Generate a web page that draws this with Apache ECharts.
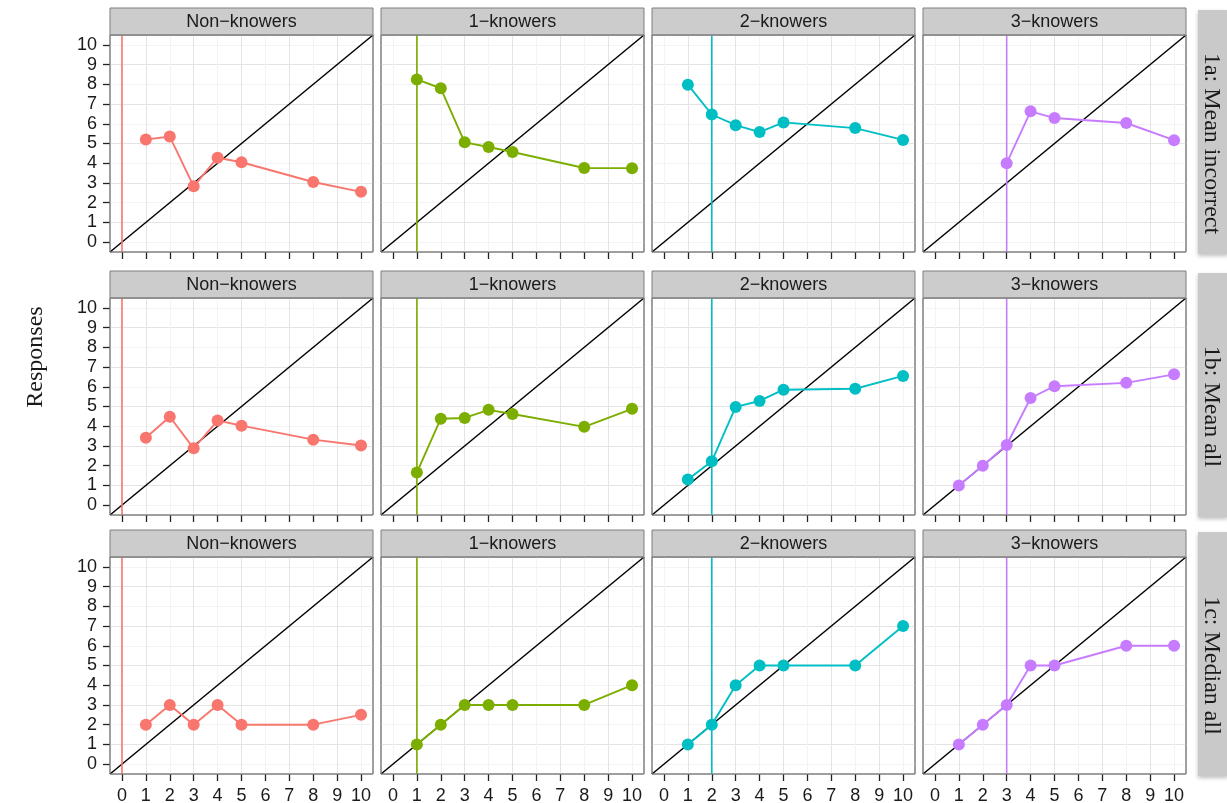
<!DOCTYPE html>
<html>
<head>
<meta charset="utf-8">
<script src="https://cdn.jsdelivr.net/npm/echarts@6/dist/echarts.min.js"></script>
<style>
html,body{margin:0;padding:0;background:#fff;}
#chart{width:1227px;height:803px;}
</style>
</head>
<body>
<div id="chart"></div>
<script>
// ---------- data ----------
const panelNames = ['Non\u2212knowers', '1\u2212knowers', '2\u2212knowers', '3\u2212knowers'];
const rowNames = ['1a: Mean incorrect', '1b: Mean all', '1c: Median all'];
const knowerLevels = [0, 1, 2, 3];
const xValues = [1, 2, 3, 4, 5, 8, 10];
const tickValues = [0, 1, 2, 3, 4, 5, 6, 7, 8, 9, 10];
const diagLine = [[-0.5, -0.5], [10.5, 10.5]];

// Row 1a: Mean incorrect
const meanIncorrectNon = [5.2, 5.35, 2.83, 4.28, 4.05, 3.05, 2.55];
const meanIncorrect1 = [8.25, 7.8, 5.06, 4.82, 4.57, 3.76, 3.75];
const meanIncorrect2 = [7.98, 6.47, 5.93, 5.58, 6.07, 5.78, 5.18];
const meanIncorrect3 = [null, null, 4.0, 6.63, 6.29, 6.04, 5.17];
// Row 1b: Mean all
const meanAllNon = [3.42, 4.48, 2.88, 4.29, 4.03, 3.32, 3.02];
const meanAll1 = [1.65, 4.38, 4.42, 4.83, 4.62, 3.97, 4.88];
const meanAll2 = [1.3, 2.22, 4.98, 5.28, 5.85, 5.9, 6.55];
const meanAll3 = [1.0, 2.0, 3.05, 5.43, 6.03, 6.2, 6.63];
// Row 1c: Median all
const medianAllNon = [2, 3, 2, 3, 2, 2, 2.5];
const medianAll1 = [1, 2, 3, 3, 3, 3, 4];
const medianAll2 = [1, 2, 4, 5, 5, 5, 7];
const medianAll3 = [1, 2, 3, 5, 5, 6, 6];

const rowsData = [
  [meanIncorrectNon, meanIncorrect1, meanIncorrect2, meanIncorrect3],
  [meanAllNon, meanAll1, meanAll2, meanAll3],
  [medianAllNon, medianAll1, medianAll2, medianAll3]
];

// ---------- style / layout ----------
const colors = ['#F8766D', '#7CAE00', '#00BFC4', '#C77CFF'];
const colLefts = [110, 381, 652, 923];
const panelW = 263;
const stripTops = [8, 271, 530];
const stripH = 27;
const panelH = 217;
const sans = '"Liberation Sans", Arial, Helvetica, sans-serif';
const serif = '"Liberation Serif", "Times New Roman", serif';

const grids = [], xAxes = [], yAxes = [], series = [], graphics = [];
let gi = 0;
for (let r = 0; r < 3; r++) {
  const top = stripTops[r] + stripH;
  for (let c = 0; c < 4; c++) {
    const left = colLefts[c];
    grids.push({left: left, top: top, width: panelW, height: panelH, outerBoundsMode: 'none',
      show: true, backgroundColor: '#fff', borderColor: '#7f7f7f', borderWidth: 1, containLabel: false});
    xAxes.push({
      type: 'value', gridIndex: gi, min: -0.5, max: 10.5, interval: 0.5, position: 'bottom',
      axisLine: {show: false, onZero: false},
      axisTick: {show: true, length: 7, customValues: tickValues, lineStyle: {color: '#222', width: 1.3}},
      axisLabel: {show: r === 2, customValues: tickValues, margin: 13, fontSize: 18, fontFamily: sans, color: '#1a1a1a',
        formatter: v => Number.isInteger(v) ? String(v) : ''},
      splitLine: {show: true, lineStyle: {color: ['#f3f3f3', '#e4e4e4'], width: 1}}
    });
    yAxes.push({
      type: 'value', gridIndex: gi, min: -0.5, max: 10.5, interval: 0.5, position: 'left',
      axisLine: {show: false, onZero: false},
      axisTick: {show: c === 0, length: 7, customValues: tickValues, lineStyle: {color: '#222', width: 1.3}},
      axisLabel: {show: c === 0, customValues: tickValues, margin: 13, fontSize: 18, fontFamily: sans, color: '#1a1a1a',
        formatter: v => Number.isInteger(v) ? String(v) : ''},
      splitLine: {show: true, lineStyle: {color: ['#f3f3f3', '#e4e4e4'], width: 1}}
    });
    // diagonal y = x
    series.push({type: 'line', xAxisIndex: gi, yAxisIndex: gi, data: diagLine, symbol: 'none', silent: true,
      lineStyle: {color: '#000', width: 1.5}, z: 2});
    // knower-level vertical line
    const k = knowerLevels[c];
    series.push({type: 'line', xAxisIndex: gi, yAxisIndex: gi, data: [[k, -0.5], [k, 10.5]], symbol: 'none', silent: true,
      lineStyle: {color: colors[c], width: 1.6}, z: 3});
    // responses
    const vals = rowsData[r][c];
    const pts = [];
    xValues.forEach((x, i) => { if (vals[i] !== null) pts.push([x, vals[i]]); });
    series.push({type: 'line', xAxisIndex: gi, yAxisIndex: gi, data: pts, symbol: 'circle', symbolSize: 12,
      itemStyle: {color: colors[c]}, lineStyle: {color: colors[c], width: 1.9}, z: 4, clip: false});
    // strip
    graphics.push({type: 'rect', shape: {x: left, y: stripTops[r], width: panelW, height: stripH},
      style: {fill: '#cccccc', stroke: '#7f7f7f', lineWidth: 1}, z: 10});
    graphics.push({type: 'text', x: left + panelW / 2, y: stripTops[r] + stripH / 2 + 1,
      style: {text: panelNames[c], fill: '#1a1a1a', font: '18px ' + sans, align: 'center', verticalAlign: 'middle'}, z: 11});
    // panel border on top
    graphics.push({type: 'rect', shape: {x: left, y: top, width: panelW, height: panelH},
      style: {fill: 'none', stroke: '#7f7f7f', lineWidth: 1}, z: 10});
    gi++;
  }
  // row strip
  const rTop = stripTops[r] + 2;
  const rH = stripH + panelH;
  graphics.push({type: 'rect', shape: {x: 1198, y: rTop, width: 30, height: rH},
    style: {fill: '#c9c9c9', shadowBlur: 4, shadowColor: 'rgba(0,0,0,0.25)', shadowOffsetY: 2}, z: 10});
  graphics.push({type: 'text', x: 1211, y: top + panelH / 2, rotation: -Math.PI / 2,
    style: {text: rowNames[r], fill: '#1a1a1a', font: '24px ' + serif, align: 'center', verticalAlign: 'middle'}, z: 11});
}
graphics.push({type: 'text', x: 36, y: 357, rotation: Math.PI / 2,
  style: {text: 'Responses', fill: '#1a1a1a', font: '24px ' + serif, align: 'center', verticalAlign: 'middle'}, z: 11});

const chart = echarts.init(document.getElementById('chart'), null, {renderer: 'canvas'});
chart.setOption({
  animation: false,
  backgroundColor: '#fff',
  grid: grids, xAxis: xAxes, yAxis: yAxes, series: series,
  graphic: graphics
});
</script>
</body>
</html>
